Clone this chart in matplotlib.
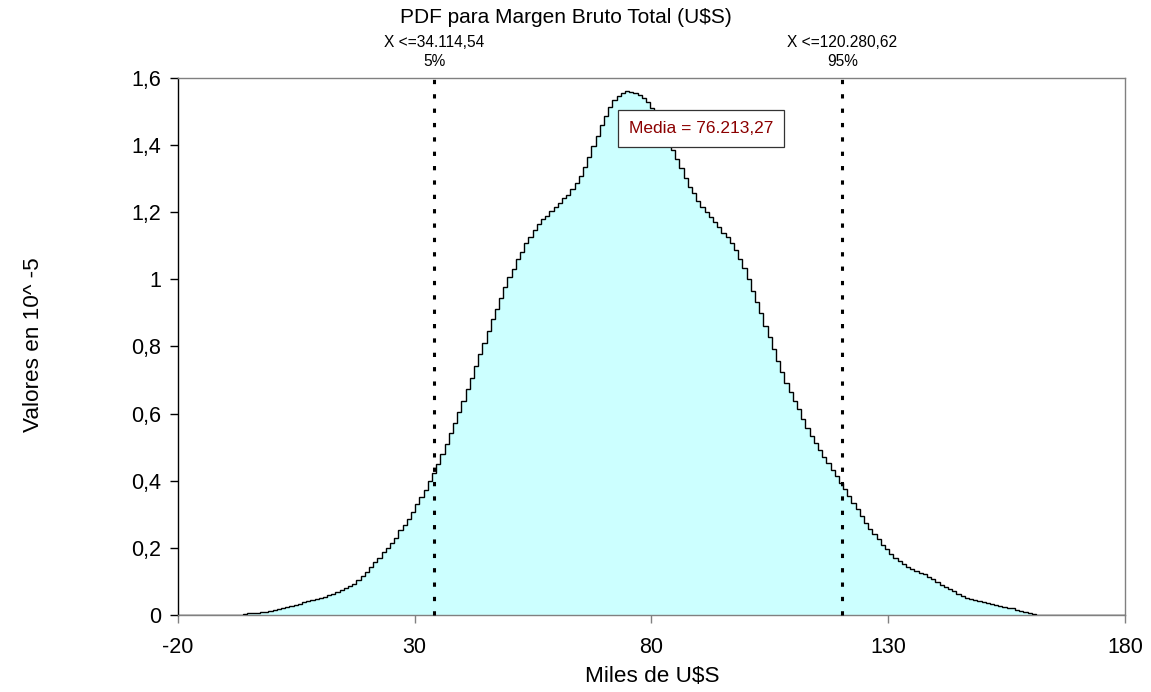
import numpy as np
import matplotlib
matplotlib.use("Agg")
import matplotlib.pyplot as plt
from matplotlib.ticker import FuncFormatter

plt.rcParams['font.family'] = ['Liberation Sans', 'DejaVu Sans']
plt.rcParams['axes.unicode_minus'] = False

# Simulated density of the total gross margin (thousands of U$S), values in 10^-5
x_min, x_max = -6.22, 161.22
density = [
    0.004, 0.005, 0.005, 0.007, 0.008, 0.010, 0.011,
    0.014, 0.018, 0.021, 0.024, 0.028, 0.031, 0.034, 0.038, 0.041, 0.045,
    0.048, 0.052, 0.055, 0.059, 0.064, 0.069, 0.075, 0.080, 0.086, 0.093,
    0.105, 0.116, 0.129, 0.143, 0.157, 0.171, 0.187, 0.200, 0.215, 0.230,
    0.252, 0.268, 0.285, 0.308, 0.330, 0.352, 0.372, 0.398, 0.424, 0.450,
    0.479, 0.509, 0.541, 0.573, 0.605, 0.638, 0.672, 0.706, 0.742, 0.778,
    0.811, 0.847, 0.881, 0.912, 0.945, 0.976, 1.006, 1.031, 1.060, 1.083,
    1.107, 1.126, 1.146, 1.165, 1.179, 1.190, 1.205, 1.216, 1.227, 1.241,
    1.252, 1.270, 1.287, 1.309, 1.334, 1.364, 1.396, 1.428, 1.459, 1.488,
    1.513, 1.533, 1.547, 1.556, 1.562,
    1.558, 1.554, 1.550, 1.540, 1.527, 1.510, 1.488, 1.465, 1.440, 1.412,
    1.386, 1.358, 1.331, 1.303, 1.276, 1.256, 1.232, 1.215, 1.200, 1.185,
    1.170, 1.155, 1.139, 1.125, 1.107, 1.086, 1.061, 1.033, 1.001, 0.966,
    0.934, 0.899, 0.862, 0.827, 0.792, 0.757, 0.723, 0.692, 0.663, 0.639,
    0.613, 0.584, 0.558, 0.533, 0.512, 0.492, 0.472, 0.452, 0.432,
    0.414, 0.394, 0.374, 0.355, 0.335, 0.315, 0.295, 0.275, 0.257, 0.240,
    0.225, 0.208, 0.196, 0.181, 0.171, 0.161, 0.151, 0.143, 0.138, 0.131,
    0.126, 0.121, 0.114, 0.106, 0.098, 0.090, 0.083, 0.076, 0.070, 0.064,
    0.058, 0.052, 0.048, 0.044, 0.041, 0.038, 0.035, 0.032, 0.030, 0.028,
    0.025, 0.022, 0.020, 0.016, 0.012, 0.008, 0.005, 0.002,
]
# statistics in U$S
p5_usd = 34114.54
p95_usd = 120280.62
mean_usd = 76213.27

x_ticks = [-20, 30, 80, 130, 180]
y_ticks = [0, 0.2, 0.4, 0.6, 0.8, 1.0, 1.2, 1.4, 1.6]


def es_number(v, decimals=2):
    s = f"{v:,.{decimals}f}"
    return s.replace(",", "X").replace(".", ",").replace("X", ".")


fig = plt.figure(figsize=(11.51, 6.92), dpi=100)
ax = fig.add_axes([0.1546, 0.1113, 0.8228, 0.7760])

edges = np.linspace(x_min, x_max, len(density) + 1)
ax.stairs(density, edges, fill=True, color="#ccffff", lw=0, zorder=1)
ax.stairs(np.r_[0.0, density, 0.0], np.r_[-20.0, edges, 180.0],
          color="black", lw=1.0, zorder=3)

# percentile markers (axis is in thousands)
trans = ax.get_xaxis_transform()
for usd, pct in ((p5_usd, "5%"), (p95_usd, "95%")):
    xv = usd / 1000.0
    ax.plot([xv, xv], [0, 1.6], color="black", lw=2.2,
            linestyle=(0, (1.4, 3.3)), dash_capstyle="butt", zorder=4,
            clip_on=False)
    ax.text(xv, 1.067, "X <=" + es_number(usd), transform=trans,
            ha="center", va="center", fontsize=11.2)
    ax.text(xv, 1.030, pct, transform=trans, ha="center", va="center",
            fontsize=11.2)

ax.text(90.55, 1.45, "Media = " + es_number(mean_usd), ha="center",
        va="center", fontsize=12.5, color="#8b0000", zorder=5,
        bbox=dict(boxstyle="square,pad=0.62", facecolor="white",
                  edgecolor="#333333", lw=0.9))

ax.set_xlim(-20, 180)
ax.set_ylim(0, 1.6)
ax.set_xticks(x_ticks)
ax.set_yticks(y_ticks)
ax.yaxis.set_major_formatter(FuncFormatter(lambda v, p: f"{v:g}".replace(".", ",")))
ax.tick_params(axis="x", direction="out", length=6, width=1, color="#808080",
               labelsize=15.5, pad=10)
ax.tick_params(axis="y", direction="out", length=6, width=1, color="black",
               labelsize=15.5, pad=6)

for side in ("top", "right", "bottom"):
    ax.spines[side].set_color("#808080")
    ax.spines[side].set_linewidth(1.0)
ax.spines["left"].set_color("black")
ax.spines["left"].set_linewidth(1.0)

fig.text(0.4918, 0.974, "PDF para Margen Bruto Total (U$S)", ha="center",
         va="center", fontsize=15)
fig.text(0.5664, 0.0217, "Miles de U$S", ha="center", va="center",
         fontsize=16.2)
fig.text(0.0287, 0.5014, "Valores en 10^ -5", ha="center", va="center",
         rotation=90, fontsize=16.2)

fig.savefig("out.png", dpi=100)
